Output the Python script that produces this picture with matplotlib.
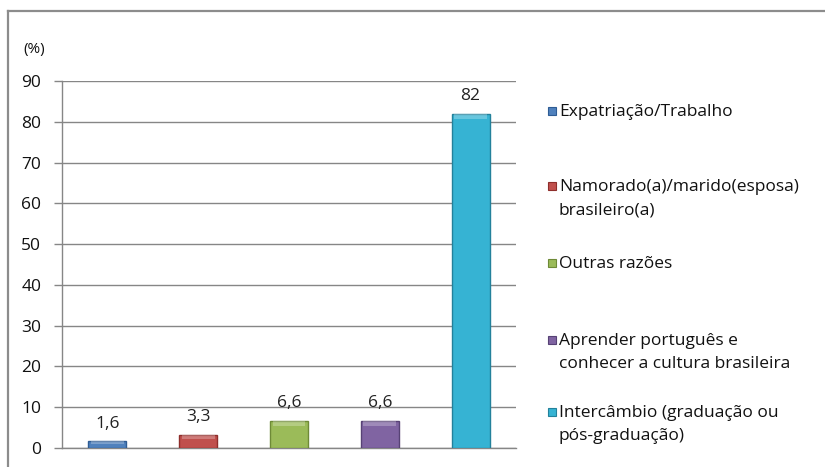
import numpy as np
import matplotlib
matplotlib.use("Agg")
import matplotlib.pyplot as plt
from matplotlib.patches import Rectangle
from matplotlib.lines import Line2D

# ------------------------------------------------------------------ #
#  Data
# ------------------------------------------------------------------ #
categories = [
    "Expatriação/Trabalho",
    "Namorado(a)/marido(esposa)\nbrasileiro(a)",
    "Outras razões",
    "Aprender português e\nconhecer a cultura brasileira",
    "Intercâmbio (graduação ou\npós-graduação)",
]
values = [1.6, 3.3, 6.6, 6.6, 82]
colors = ["#4F81BD", "#C0504D", "#9BBB59", "#8064A2", "#36B3D3"]
edge_colors = ["#2E5C94", "#8E2E2B", "#6E8A37", "#574275", "#23819B"]
yticks = list(range(0, 100, 10))

# legend rows, figure pixels from top (first line of each entry)
legend_rows_px = [111, 186, 263, 340, 412]

W, H = 825, 467
FONT = ["Open Sans", "DejaVu Sans"]
plt.rcParams["font.family"] = FONT

fig = plt.figure(figsize=(W / 100, H / 100), dpi=100)
fig.patch.set_facecolor("white")

# outer frame (left and top edges visible)
fig.add_artist(Line2D([8 / W, 8 / W], [0, 1 - 11 / H], transform=fig.transFigure,
                      color="#8c8c8c", linewidth=1.6))
fig.add_artist(Line2D([8 / W, 1], [1 - 11 / H, 1 - 11 / H], transform=fig.transFigure,
                      color="#8c8c8c", linewidth=1.6))

ax = fig.add_axes([62 / W, 1 - 448 / H, (516 - 62) / W, (448 - 81) / H])

x = np.arange(len(values))
bars = ax.bar(x, values, width=0.42, color=colors, edgecolor=edge_colors,
              linewidth=1.0, zorder=3)

# soft highlight on the top of each bar
for b, c in zip(bars, colors):
    h = b.get_height()
    cap = min(1.2, h * 0.35)
    ax.add_patch(Rectangle((b.get_x() + 0.03, h - cap), b.get_width() - 0.06, cap,
                           facecolor="white", alpha=0.25, linewidth=0, zorder=4))

for xi, v in zip(x, values):
    label = f"{v:g}".replace(".", ",")
    ax.text(xi, v + 2.4, label, ha="center", va="bottom", fontsize=12.5,
            color="#222222")

ax.set_xlim(-0.5, len(values) - 0.5)
ax.set_ylim(0, 90)
ax.set_yticks(yticks)
ax.set_yticklabels([str(t) for t in yticks], fontsize=12.5, color="#111111")
ax.set_xticks([])
ax.yaxis.grid(True, color="#868686", linewidth=1.0, zorder=0)
ax.tick_params(axis="y", length=6, width=1.0, color="#868686", pad=9)
for s in ["top", "right"]:
    ax.spines[s].set_visible(False)
ax.spines["left"].set_color("#868686")
ax.spines["bottom"].set_color("#868686")
ax.spines["left"].set_linewidth(1.0)
ax.spines["bottom"].set_linewidth(1.0)

fig.text(23 / W, 1 - 50 / H, "(%)", fontsize=11, va="center", ha="left",
         color="#111111")

# legend entries drawn by hand so the spacing follows the category layout
for lab, c, ec, ypx in zip(categories, colors, edge_colors, legend_rows_px):
    fig.add_artist(Rectangle((548 / W, 1 - (ypx + 4) / H), 8 / W, 8 / H,
                             transform=fig.transFigure, facecolor=c,
                             edgecolor=ec, linewidth=0.8))
    fig.text(559 / W, 1 - (ypx - 7) / H, lab, fontsize=12.5, va="top",
             ha="left", linespacing=1.6, color="#111111")

fig.savefig("out.png", dpi=100)
